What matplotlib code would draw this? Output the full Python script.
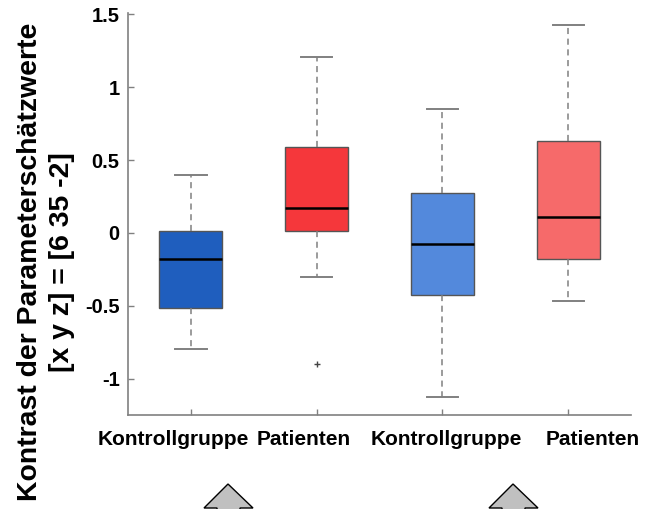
import matplotlib
matplotlib.use("Agg")
import matplotlib.pyplot as plt
from matplotlib.patches import Polygon

plt.rcParams['font.family'] = ['Liberation Sans', 'DejaVu Sans']

# box statistics
groups = ["Kontrollgruppe", "Patienten", "Kontrollgruppe", "Patienten"]
whislo = [-0.797, -0.306, -1.128, -0.47]
q1 = [-0.516, 0.014, -0.427, -0.18]
med = [-0.18, 0.171, -0.077, 0.107]
q3 = [0.012, 0.59, 0.276, 0.628]
whishi = [0.395, 1.205, 0.849, 1.425]
fliers = [[], [-0.9], [], []]
colors = ["#1f5ebe", "#f5373b", "#5389dc", "#f66a6a"]

# the labels in the original sit a bit off their ticks (pixels)
label_shift = [-18, -13, 4, 24]

fig = plt.figure(figsize=(6.48, 5.09), dpi=100)
ax = fig.add_axes([0.1975, 0.1847, 0.7765, 0.7898])

stats = []
for i in range(len(groups)):
    stats.append(dict(med=med[i], q1=q1[i], q3=q3[i], whislo=whislo[i],
                      whishi=whishi[i], fliers=fliers[i], label=groups[i]))

positions = list(range(1, len(groups) + 1))
bp = ax.bxp(stats, positions=positions, widths=0.5,
            patch_artist=True, showfliers=True,
            boxprops=dict(edgecolor="#555555", linewidth=1.0),
            medianprops=dict(color="black", linewidth=1.8),
            whiskerprops=dict(color="#808080", linestyle=(0, (4, 3)), linewidth=1.1),
            capprops=dict(color="#808080", linewidth=1.4),
            capwidths=0.25,
            flierprops=dict(marker="+", markeredgecolor="#444444", markersize=4,
                            markeredgewidth=1.0, linestyle="none"))
for patch, c in zip(bp["boxes"], colors):
    patch.set_facecolor(c)

ax.set_xlim(0.5, 4.5)
ax.set_ylim(-1.25, 1.51)
ax.set_yticks([-1, -0.5, 0, 0.5, 1, 1.5])
ax.set_yticklabels(["-1", "-0.5", "0", "0.5", "1", "1.5"])
ax.set_xticklabels([])
for lab in ax.get_yticklabels():
    lab.set_fontweight("bold")
    lab.set_fontsize(14.5)
for pos, name, dx in zip(positions, groups, label_shift):
    ax.annotate(name, xy=(pos, 0), xycoords=ax.get_xaxis_transform(),
                xytext=(dx, -15), textcoords="offset pixels",
                ha="center", va="top", fontsize=15, fontweight="bold")
ax.tick_params(direction="in", length=4, color="#808080", width=1)
ax.tick_params(axis="y", pad=6)
for s in ["top", "right"]:
    ax.spines[s].set_visible(False)
for s in ["left", "bottom"]:
    ax.spines[s].set_color("#808080")
    ax.spines[s].set_linewidth(1.2)

fig.text(0.071, 0.485, "Kontrast der Parameterschätzwerte\n[x y z] = [6 35 -2]",
         rotation=90, ha="center", va="center", multialignment="center",
         fontsize=20.4, fontweight="bold", linespacing=1.3)

# grey arrow heads below the axis (figure pixel coords)
W, H = 648.0, 509.0
for cx in [228, 513]:
    pts = [(cx - 24, 508), (cx, 484), (cx + 25, 508), (cx + 12, 508),
           (cx + 12, 520), (cx - 11, 520), (cx - 11, 508)]
    pts = [(x / W, 1 - y / H) for x, y in pts]
    fig.patches.append(Polygon(pts, closed=True, facecolor="#c0c0c0",
                               edgecolor="black", linewidth=1.0,
                               transform=fig.transFigure, clip_on=False))

fig.savefig("out.png", dpi=100)
